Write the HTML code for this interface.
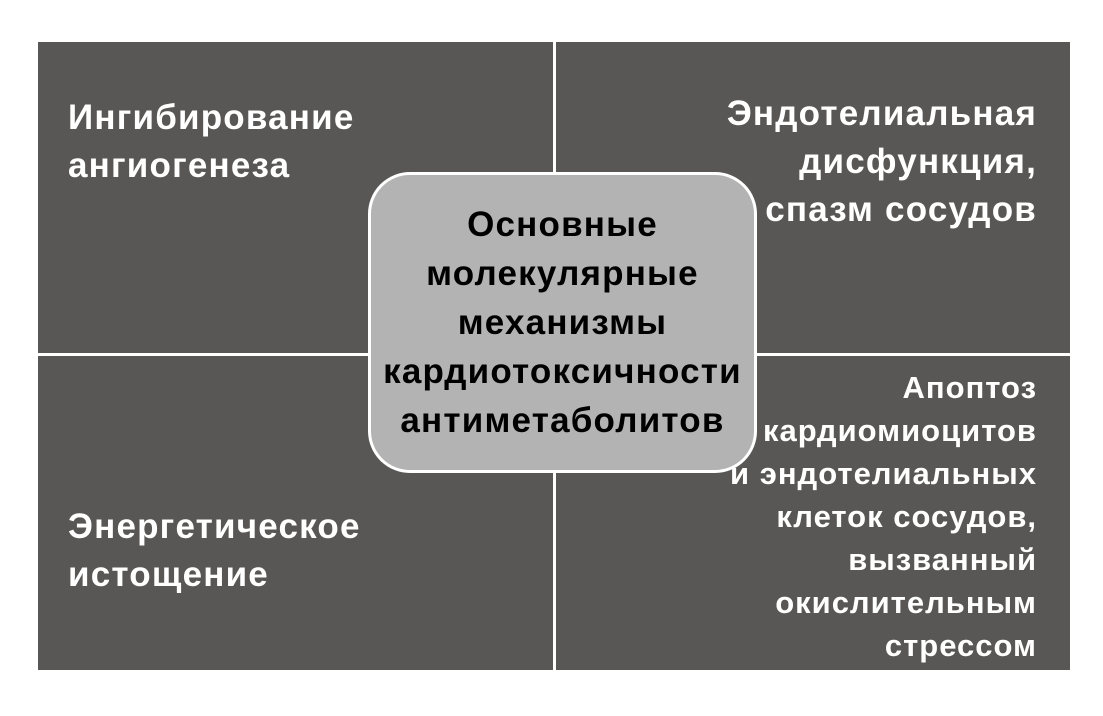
<!DOCTYPE html>
<html><head><meta charset="utf-8"><style>
body{margin:0;width:1103px;height:716px;background:#fff;position:relative;overflow:hidden;font-family:"Liberation Sans",sans-serif;font-weight:bold}
.bg{position:absolute;left:38px;top:42px;width:1032px;height:628px;background:#585755}
.v{position:absolute;left:553px;top:42px;width:3px;height:628px;background:#fff}
.h{position:absolute;left:38px;top:353px;width:1032px;height:3px;background:#fff}
.t{position:absolute;color:#fff;font-size:35px;line-height:48px;letter-spacing:1.2px;white-space:nowrap}
.c{position:absolute;left:368px;top:172px;width:383px;height:295px;border:3px solid #fff;border-radius:42px;background:#b3b3b3;display:flex;align-items:center;justify-content:center;text-align:center;color:#000;font-size:35px;line-height:49px;letter-spacing:1.2px}
</style></head><body>
<div class="bg"></div><div class="v"></div><div class="h"></div>
<div class="t" style="left:68px;top:94px">Ингибирование<br>ангиогенеза</div>
<div class="t" style="right:66px;top:90px;text-align:right">Эндотелиальная<br>дисфункция,<br>спазм сосудов</div>
<div class="t" style="left:68px;top:503px">Энергетическое<br>истощение</div>
<div class="t" style="right:66px;top:366px;text-align:right;line-height:43px;font-size:31px;letter-spacing:1px">Апоптоз<br>кардиомиоцитов<br>и эндотелиальных<br>клеток сосудов,<br>вызванный<br>окислительным<br>стрессом</div>
<div class="c"><div>Основные<br>молекулярные<br>механизмы<br>кардиотоксичности<br>антиметаболитов</div></div>
</body></html>
